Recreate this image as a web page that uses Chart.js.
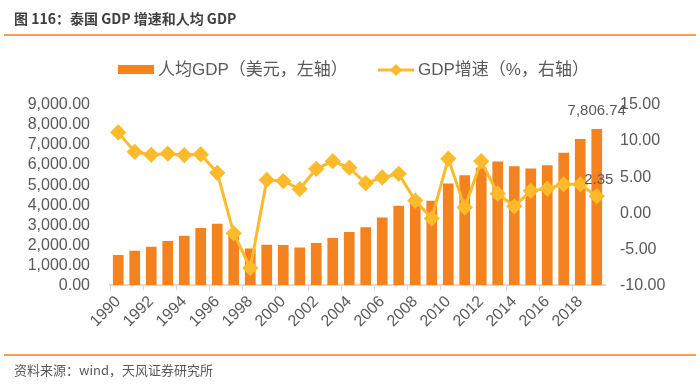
<!DOCTYPE html>
<html>
<head>
<meta charset="utf-8">
<script src="https://cdn.jsdelivr.net/npm/chart.js@4/dist/chart.umd.min.js"></script>
<style>
  html, body { margin: 0; padding: 0; background: #fff; }
  #wrap { position: relative; width: 700px; height: 389px; overflow: hidden; }
  #chart_canvas { position: absolute; left: 0; top: 0; }
  .title { position: absolute; left: 14px; top: 8px; font: bold 14px "Noto Sans CJK SC", sans-serif; color: #404040; }
  .rule { position: absolute; left: 4px; width: 692px; height: 2px; background: #F4A05A; }
  .source { position: absolute; left: 14px; top: 360px; font: 13px "Noto Sans CJK SC", sans-serif; color: #595959; }
</style>
</head>
<body>
<div id="wrap">
  <canvas id="chart_canvas" width="700" height="389"></canvas>
  <div class="title">图 116：泰国 GDP 增速和人均 GDP</div>
  <div class="rule" style="top:34px"></div>
  <div class="rule" style="top:354px"></div>
  <div class="source">资料来源：wind，天风证券研究所</div>
</div>
<script>
const years = ['1990', '1991', '1992', '1993', '1994', '1995', '1996', '1997', '1998', '1999',
  '2000', '2001', '2002', '2003', '2004', '2005', '2006', '2007', '2008', '2009',
  '2010', '2011', '2012', '2013', '2014', '2015', '2016', '2017', '2018', '2019']

// 人均GDP（美元）
const gdp_per_capita = [1508, 1724, 1925, 2211, 2477, 2864, 3065, 2468, 1839, 2025,
  2010, 1890, 2110, 2360, 2663, 2894, 3382, 3970, 4385, 4221,
  5075, 5492, 5861, 6180, 5945, 5829, 5995, 6613, 7302, 7806.74]

// GDP增速（%）
const gdp_growth = [11.2, 8.5, 8.1, 8.25, 8.05, 8.15, 5.6, -2.8, -7.6, 4.6,
  4.45, 3.35, 6.15, 7.2, 6.3, 4.15, 4.95, 5.45, 1.75, -0.75,
  7.55, 0.8, 7.2, 2.7, 0.95, 3.1, 3.4, 4.0, 4.0, 2.35]

const BAR_COLOR = '#F4821F'
const LINE_COLOR = '#FDBA2B'
const TEXT_COLOR = '#595959'
const FONT_FAMILY = '"Liberation Sans", "Noto Sans CJK SC", sans-serif'

// 图例（手动画，线+菱形）
const legendPlugin = {
  id: 'legendPlugin',
  afterDraw(chart) {
    const ctx = chart.ctx
    ctx.save()
    ctx.font = '17px ' + FONT_FAMILY
    ctx.fillStyle = BAR_COLOR
    ctx.fillRect(118, 65, 36, 9)
    ctx.fillStyle = TEXT_COLOR
    ctx.textBaseline = 'middle'
    ctx.fillText('人均GDP（美元，左轴）', 158, 70)

    ctx.strokeStyle = LINE_COLOR
    ctx.lineWidth = 3
    ctx.beginPath()
    ctx.moveTo(378, 70)
    ctx.lineTo(414, 70)
    ctx.stroke()
    ctx.fillStyle = LINE_COLOR
    ctx.beginPath()
    ctx.moveTo(396, 64)
    ctx.lineTo(402, 70)
    ctx.lineTo(396, 76)
    ctx.lineTo(390, 70)
    ctx.closePath()
    ctx.fill()
    ctx.fillStyle = TEXT_COLOR
    ctx.fillText('GDP增速（%，右轴）', 418, 70)
    ctx.restore()
  },
}

// 最后一个点的数值标签
const lastLabelPlugin = {
  id: 'lastLabelPlugin',
  afterDatasetsDraw(chart) {
    const ctx = chart.ctx
    const n = years.length - 1
    const bar = chart.getDatasetMeta(0).data[n]
    const pt = chart.getDatasetMeta(1).data[n]
    ctx.save()
    ctx.font = '15px ' + FONT_FAMILY
    ctx.fillStyle = TEXT_COLOR
    ctx.textAlign = 'center'
    ctx.textBaseline = 'bottom'
    ctx.fillText(gdp_per_capita[n].toLocaleString('en-US', { minimumFractionDigits: 2 }), bar.x, bar.y - 11)
    ctx.fillText(gdp_growth[n].toFixed(2), pt.x + 2, pt.y - 9)
    ctx.restore()
  },
}

const fmt2 = (v) => Number(v).toLocaleString('en-US', { minimumFractionDigits: 2, maximumFractionDigits: 2 })

Chart.defaults.font.family = FONT_FAMILY
Chart.defaults.color = TEXT_COLOR

let config = {
  data: {
    labels: years,
    datasets: [
      {
        type: 'bar',
        label: '人均GDP（美元，左轴）',
        data: gdp_per_capita,
        backgroundColor: BAR_COLOR,
        yAxisID: 'y',
        barPercentage: 0.65,
        categoryPercentage: 1,
        order: 1,
      },
      {
        type: 'line',
        label: 'GDP增速（%，右轴）',
        data: gdp_growth,
        borderColor: LINE_COLOR,
        backgroundColor: LINE_COLOR,
        borderWidth: 3,
        pointStyle: 'rectRot',
        pointRadius: 6,
        pointHoverRadius: 6,
        tension: 0,
        yAxisID: 'y1',
        order: 0,
      },
    ],
  },
  options: {
    responsive: false,
    animation: false,
    layout: { padding: { top: 105, bottom: 56, left: 0, right: 0 } },
    plugins: {
      legend: { display: false },
      tooltip: { enabled: false },
    },
    scales: {
      x: {
        offset: true,
        grid: {
          display: true,
          drawOnChartArea: false,
          drawTicks: true,
          tickLength: 5,
          offset: true,
          color: (c) => (c.index % 2 === 0 ? '#D9D9D9' : 'rgba(0,0,0,0)'),
        },
        border: { display: true, color: '#D9D9D9', width: 2 },
        ticks: {
          autoSkip: false,
          minRotation: 45,
          maxRotation: 45,
          padding: 2,
          font: { size: 16 },
          callback: (v, i) => (i % 2 === 0 ? years[i] : ''),
        },
      },
      y: {
        position: 'left',
        min: 0,
        max: 9000,
        grid: { display: false, drawTicks: false },
        border: { display: false },
        ticks: { autoSkip: false, stepSize: 1000, padding: 20, font: { size: 16 }, callback: (v) => fmt2(v) },
        afterFit: (s) => { s.width = 110 },
      },
      y1: {
        position: 'right',
        min: -10,
        max: 15,
        grid: { display: false, drawTicks: false },
        border: { display: false },
        ticks: { autoSkip: false, stepSize: 5, padding: 15, font: { size: 16 }, callback: (v) => fmt2(v) },
        afterFit: (s) => { s.width = 95 },
      },
    },
  },
  plugins: [legendPlugin, lastLabelPlugin],
}

const chart_canvas = document.getElementById('chart_canvas')
const weather_chart = new Chart(chart_canvas, config)
</script>
</body>
</html>
